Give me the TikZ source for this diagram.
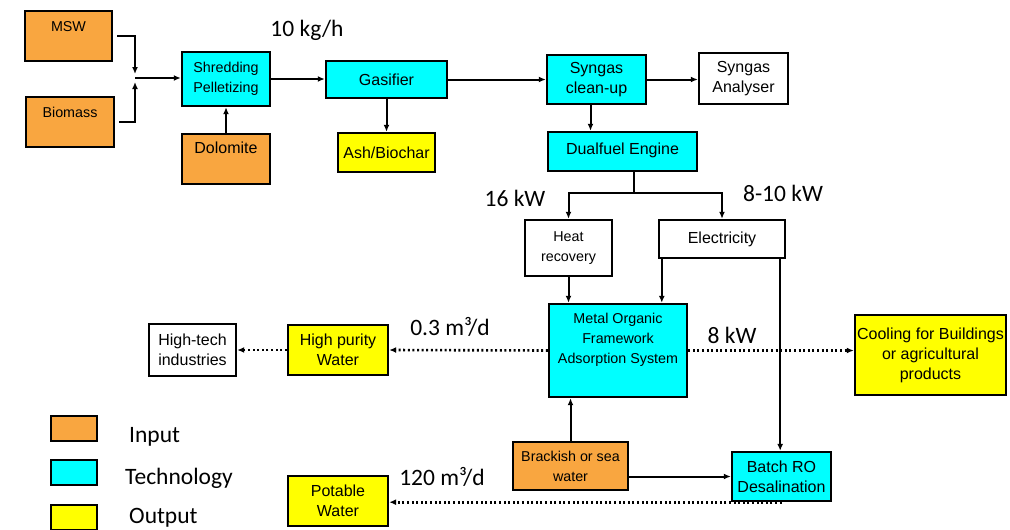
\documentclass[tikz,border=0pt]{standalone}
\usepackage{fontspec}
\setmainfont{Liberation Sans}
\newfontfamily\labfont{Carlito}
\usetikzlibrary{arrows.meta,calc}
\definecolor{inorange}{RGB}{249,166,64}
\definecolor{techcyan}{RGB}{0,255,255}
\definecolor{outyellow}{RGB}{255,255,0}
\tikzset{
  box/.style={draw=black, line width=2.4pt, rectangle, inner sep=1pt, align=center,
    font=\fontsize{16}{20}\selectfont},
  smalltext/.style={font=\fontsize{14.3}{20}\selectfont},
  inbox/.style={box, fill=inorange},
  techbox/.style={box, fill=techcyan},
  outbox/.style={box, fill=outyellow},
  plainbox/.style={box, fill=white},
  arr/.style={-{Latex[length=7pt,width=6pt]}, line width=2pt},
  dotarr/.style={-{Latex[length=7pt,width=6pt]}, line width=2.6pt, dash pattern=on 2pt off 2.6pt},
  lab/.style={font=\labfont\fontsize{23.5}{26}\selectfont, inner sep=0pt},
}
\begin{document}
\begin{tikzpicture}[x=1pt,y=-1pt]
\useasboundingbox (0,0) rectangle (1010,530);
% boxes
\node[inbox, smalltext, minimum width=87, minimum height=50, text depth=18pt] (msw) at (68.5,36) {MSW};
\node[inbox, smalltext, minimum width=88, minimum height=50, text depth=20pt] (bio) at (70,122) {Biomass};
\node[techbox, smalltext, minimum width=88, minimum height=54] (shred) at (226,79) {Shredding\\Pelletizing};
\node[inbox, minimum width=88, minimum height=50, text depth=22pt] (dolo) at (226,159) {Dolomite};
\node[techbox, minimum width=121, minimum height=37] (gas) at (386.5,79.5) {Gasifier};
\node[outbox, minimum width=97, minimum height=39] (ash) at (386.5,152.5) {Ash/Biochar};
\node[techbox, minimum width=99, minimum height=49] (clean) at (596.5,79.5) {Syngas\\clean-up};
\node[plainbox, minimum width=89, minimum height=51] (anal) at (743.5,78.5) {Syngas\\Analyser};
\node[techbox, minimum width=149, minimum height=39, text depth=6pt] (dual) at (622.5,151.5) {Dualfuel Engine};
\node[plainbox, smalltext, minimum width=87, minimum height=56] (heat) at (568.5,248) {Heat\\recovery};
\node[plainbox, minimum width=126, minimum height=38] (elec) at (722,239) {Electricity};
\node[techbox, smalltext, minimum width=138, minimum height=93, text depth=24pt] (mof) at (618,350.5) {Metal Organic\\Framework\\Adsorption System};
\node[outbox, minimum width=100, minimum height=50] (hp) at (338,350) {High purity\\Water};
\node[plainbox, minimum width=87, minimum height=52] (ht) at (192.5,350) {High-tech\\industries};
\node[outbox, minimum width=151, minimum height=80] (cool) at (930.5,355) {Cooling for Buildings\\or agricultural\\products};
\node[inbox, smalltext, minimum width=115, minimum height=48] (brack) at (570.5,466) {Brackish or sea\\water};
\node[techbox, minimum width=99, minimum height=49] (batch) at (781.5,476.5) {Batch RO\\Desalination};
\node[outbox, minimum width=100, minimum height=50] (pot) at (338,501) {Potable\\Water};
% junction coordinates
\coordinate (j) at (135,78);
\coordinate (split) at (634,193);
% connectors
\draw[arr, shorten <=4pt] (msw.east) -| ([yshift=4pt]j);
\draw[arr, shorten <=4pt] (bio.east) -| ([yshift=-4pt]j);
\draw[arr] (j) -- (j -| shred.west);
\draw[arr] (dolo.north) -- (shred.south);
\draw[arr] (shred.east) -- (shred.east -| gas.west);
\draw[arr] (gas.south) -- (ash.north);
\draw[arr] (gas.east) -- (gas.east -| clean.west);
\draw[arr] (clean.east) -- (clean.east -| anal.west);
\draw[arr] ([xshift=-6pt]clean.south) -- ([xshift=-6pt]clean.south |- dual.north);
\draw[line width=2pt] ([xshift=11.5pt]dual.south) -- (split);
\draw[arr] (split) -| (heat.north);
\draw[arr] (split) -| (elec.north);
\draw[arr] (heat.south) -- (heat.south |- mof.north);
\draw[arr] ([xshift=4pt]elec.south west) -- ([xshift=4pt]elec.south west |- mof.north);
\draw[arr] ([xshift=-6pt]elec.south east) -- ([xshift=-6pt]elec.south east |- batch.north);
\draw[arr] (brack.north) -- (brack.north |- mof.south);
\draw[arr] (batch.west -| brack.east) -- (batch.west);
\draw[dotarr] (mof.west) -- (hp.east);
\draw[dotarr] (hp.west) -- (ht.east);
\draw[dotarr] (mof.east) -- (mof.east -| cool.west);
\draw[dotarr] (batch.south) -- (batch.south -| pot.east);
% labels
\node[lab] (l1) at (307,30) {10 kg/h};
\node[lab] (l2) at (515,198) {16 kW};
\node[lab] (l3) at (783,193) {8-10 kW};
\node[lab] (l4) at (450,327) {0.3 m³/d};
\node[lab] (l5) at (732,335) {8 kW};
\node[lab] (l6) at (442,477) {120 m³/d};
% legend
\node[inbox, minimum width=46, minimum height=25] (lg1) at (74,428.5) {};
\node[techbox, minimum width=46, minimum height=25] (lg2) at (74,472.5) {};
\node[outbox, minimum width=46, minimum height=25] (lg3) at (74,517.5) {};
\node[lab, anchor=west] (lt1) at (129,437) {Input};
\node[lab, anchor=west] (lt2) at (125,478) {Technology};
\node[lab, anchor=west] (lt3) at (129,518) {Output};
\end{tikzpicture}
\end{document}
